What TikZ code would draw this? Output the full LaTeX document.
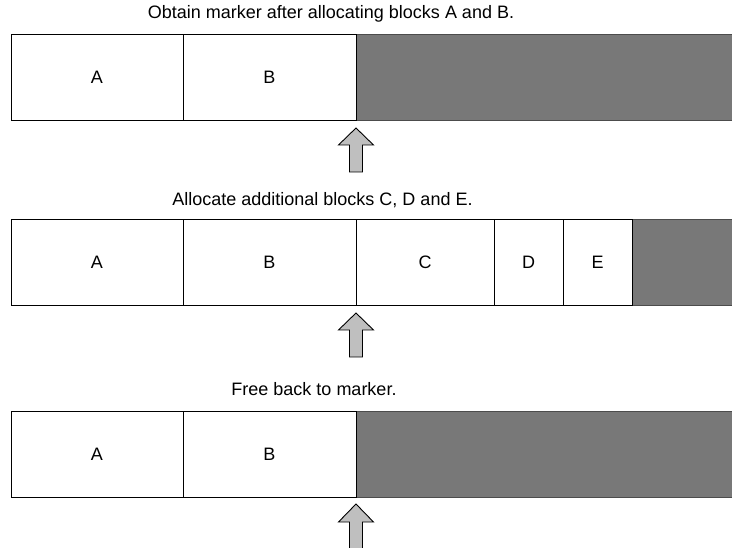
\documentclass[tikz,border=0pt]{standalone}
\usepackage{fontspec}
\setmainfont{Liberation Sans}
\tikzset{
  blk/.style={draw=black, line width=0.9pt, fill=white, inner sep=0pt, font=\fontsize{18}{22}\selectfont, minimum height=86pt},
  free/.style={draw=black!70, line width=0.9pt, fill=black!53, inner sep=0pt, minimum height=86pt},
  ttl/.style={font=\fontsize{18}{22}\selectfont, inner sep=0pt},
  markarrow/.style={draw=black, line width=0.9pt, fill=black!25, line join=miter}
}
\begin{document}
\begin{tikzpicture}[x=1pt,y=-1pt]
\clip (0,0) rectangle (732,548);
\fill[white] (0,0) rectangle (732,548);
% row 1
\node[ttl] (t1) at (331,14) {Obtain marker after allocating blocks A and B.};
\node[free, minimum width=390pt, anchor=west] (g1) at (356,77.5) {};
\node[blk, minimum width=172pt] (a1) at (97,77.5) {A};
\node[blk, minimum width=173pt] (b1) at (269.5,77.5) {B};
\draw[markarrow] (356,128) -- (373.5,145) -- (362.5,145) -- (362.5,172) -- (349.5,172) -- (349.5,145) -- (338.5,145) -- cycle;
% row 2
\node[ttl] (t2) at (322.5,200) {Allocate additional blocks C, D and E.};
\node[free, minimum width=110pt, anchor=west] (g2) at (632,262.5) {};
\node[blk, minimum width=172pt] (a2) at (97,262.5) {A};
\node[blk, minimum width=173pt] (b2) at (269.5,262.5) {B};
\node[blk, minimum width=138pt] (c2) at (425,262.5) {C};
\node[blk, minimum width=69pt] (d2) at (528.5,262.5) {D};
\node[blk, minimum width=69pt] (e2) at (597.5,262.5) {E};
\draw[markarrow] (356,313) -- (373.5,330) -- (362.5,330) -- (362.5,357) -- (349.5,357) -- (349.5,330) -- (338.5,330) -- cycle;
% row 3
\node[ttl] (t3) at (314,389) {Free back to marker.};
\node[free, minimum width=390pt, anchor=west] (g3) at (356,454) {};
\node[blk, minimum width=172pt] (a3) at (97,454) {A};
\node[blk, minimum width=173pt] (b3) at (269.5,454) {B};
\draw[markarrow] (356,504) -- (373.5,522) -- (362.5,522) -- (362.5,560) -- (349.5,560) -- (349.5,522) -- (338.5,522) -- cycle;
\end{tikzpicture}
\end{document}
